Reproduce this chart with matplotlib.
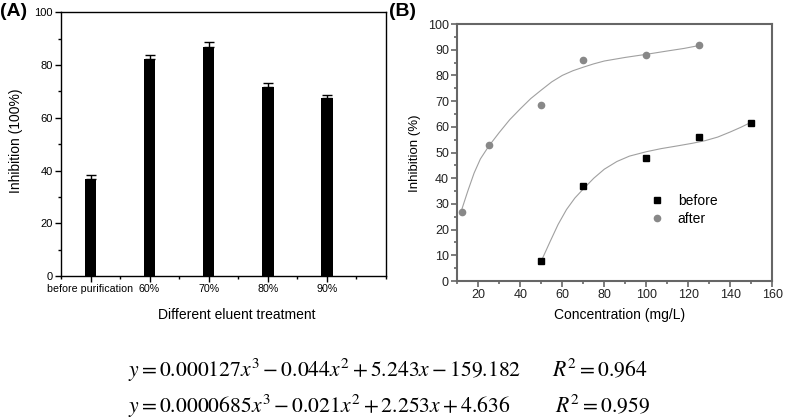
import numpy as np
import matplotlib.pyplot as plt
from matplotlib.ticker import MultipleLocator

plt.rcParams['font.family'] = ['Liberation Sans', 'DejaVu Sans']
plt.rcParams['mathtext.fontset'] = 'stix'

# Panel A: inhibition by eluent treatment
treatments = ['before purification', '60%', '70%', '80%', '90%']
inhibition = [36.8, 82.2, 86.9, 71.8, 67.4]
inhibition_err = [1.5, 1.6, 1.7, 1.4, 1.3]

# Panel B: measured points
before_x = [50, 70, 100, 125, 150]
before_y = [7.7, 37.0, 47.7, 56.0, 61.6]
after_x = [12, 25, 50, 70, 100, 125]
after_y = [27.0, 53.0, 68.5, 86.0, 88.0, 92.0]

# Panel B: fitted curves
before_fit_x = [50, 54, 58, 62, 66, 70, 75, 80, 86, 92, 100, 107, 115, 122, 128, 134, 140, 145, 150]
before_fit_y = [7.8, 15.0, 22.0, 27.8, 32.3, 35.8, 40.0, 43.5, 46.5, 48.6, 50.3, 51.5, 52.6, 53.6,
                54.6, 56.0, 58.0, 59.8, 61.8]
after_fit_x = [12, 15, 18, 21, 25, 30, 35, 40, 45, 50, 55, 60, 65, 70, 75, 80, 90, 100, 110, 118, 125]
after_fit_y = [27.5, 35.0, 42.0, 47.5, 52.5, 57.8, 62.8, 67.0, 71.0, 74.3, 77.5, 80.0, 81.8, 83.2,
               84.5, 85.6, 87.0, 88.2, 89.5, 90.5, 91.6]

W, H = 787, 419
fig = plt.figure(figsize=(W / 100, H / 100), dpi=100)


def px_axes(left, top, right, bottom):
    return fig.add_axes([left / W, 1 - bottom / H, (right - left) / W, (bottom - top) / H])


# ---- Panel A ----
axA = px_axes(61, 12.3, 385.7, 276)
pos = np.arange(len(treatments))
axA.bar(pos, inhibition, width=0.2, color='black', zorder=2)
axA.errorbar(pos, inhibition, yerr=[[0] * len(pos), inhibition_err], fmt='none',
             ecolor='black', elinewidth=1, capsize=3.5, capthick=1, zorder=3)
axA.set_xlim(-0.5, 5)
axA.set_ylim(0, 100)
axA.set_xticks(pos)
axA.set_xticklabels(treatments, fontsize=7.7)
axA.xaxis.set_minor_locator(MultipleLocator(0.5))
axA.yaxis.set_major_locator(MultipleLocator(20))
axA.yaxis.set_minor_locator(MultipleLocator(10))
axA.tick_params(axis='both', which='major', direction='out', length=4, width=1, pad=2)
axA.tick_params(axis='both', which='minor', direction='out', length=2.5, width=1)
axA.tick_params(axis='y', labelsize=8)
for s in axA.spines.values():
    s.set_linewidth(1)

# ---- Panel B ----
grey = '#666666'
axB = px_axes(457.3, 24, 772.3, 281)
axB.plot(after_fit_x, after_fit_y, color='#a0a0a0', lw=0.8, zorder=1)
axB.plot(before_fit_x, before_fit_y, color='#a0a0a0', lw=0.8, zorder=1)
axB.plot(before_x, before_y, 's', color='black', ms=4, label='before', zorder=3)
axB.plot(after_x, after_y, 'o', color='#888888', ms=4.5, label='after', zorder=3)
axB.set_xlim(10, 160)
axB.set_ylim(0, 100)
axB.xaxis.set_major_locator(MultipleLocator(20))
axB.xaxis.set_minor_locator(MultipleLocator(10))
axB.yaxis.set_major_locator(MultipleLocator(10))
axB.yaxis.set_minor_locator(MultipleLocator(5))
axB.tick_params(axis='both', which='major', direction='out', length=4, width=1.2,
                color=grey, labelsize=9, labelcolor='#222222', pad=2)
axB.tick_params(axis='both', which='minor', direction='out', length=2.5, width=1.2, color=grey)
for s in axB.spines.values():
    s.set_linewidth(1.5)
    s.set_color(grey)
axB.legend(loc='upper left', bbox_to_anchor=(0.59, 0.36), frameon=False, fontsize=10,
           handletextpad=0.9, labelspacing=0.3, handlelength=1.2, borderaxespad=0)

# ---- labels ----
fig.text(16 / W, 1 - 141 / H, 'Inhibition (100%)', rotation=90, ha='center', va='center', fontsize=10)
fig.text(415 / W, 1 - 153 / H, 'Inhibition (%)', rotation=90, ha='center', va='center', fontsize=9.5)
fig.text(237 / W, 1 - 315 / H, 'Different eluent treatment', ha='center', va='center', fontsize=10)
fig.text(620 / W, 1 - 315 / H, 'Concentration (mg/L)', ha='center', va='center', fontsize=10)
fig.text(0 / W, 1 - 12 / H, '(A)', ha='left', va='center', fontsize=14, fontweight='bold')
fig.text(389 / W, 1 - 11 / H, '(B)', ha='left', va='center', fontsize=14, fontweight='bold')

# ---- fitted equations ----
eq_size = 15.6
fig.text(128 / W, 1 - 376.5 / H, r'$y = 0.000127x^3 - 0.044x^2 + 5.243x - 159.182$',
         ha='left', va='baseline', fontsize=eq_size)
fig.text(552 / W, 1 - 376.5 / H, r'$R^2 = 0.964$', ha='left', va='baseline', fontsize=eq_size)
fig.text(128 / W, 1 - 412.5 / H, r'$y = 0.0000685x^3 - 0.021x^2 + 2.253x + 4.636$',
         ha='left', va='baseline', fontsize=eq_size)
fig.text(555 / W, 1 - 412.5 / H, r'$R^2 = 0.959$', ha='left', va='baseline', fontsize=eq_size)

fig.savefig('out.png', dpi=100)
